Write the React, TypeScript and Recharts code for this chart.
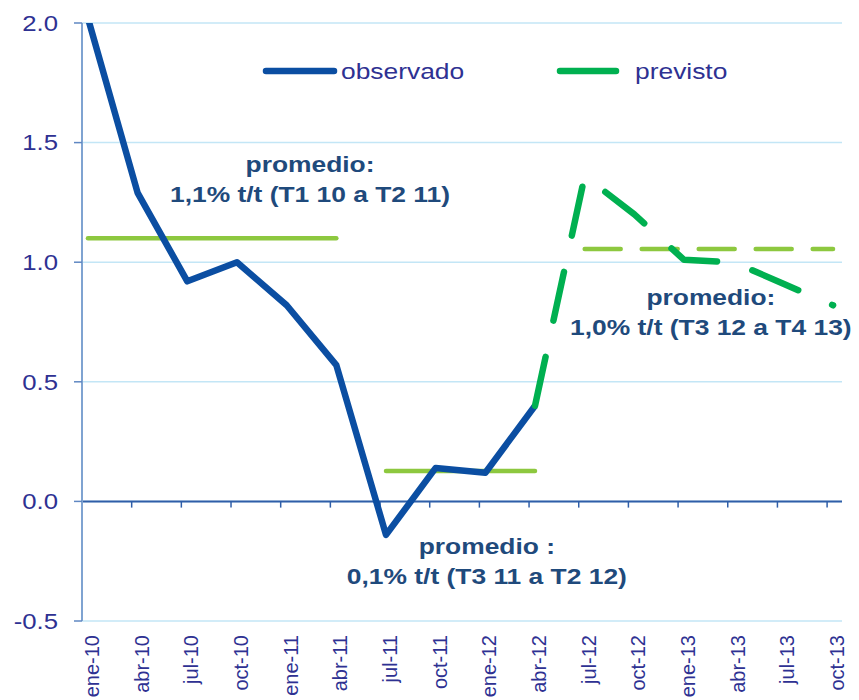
import React from 'react';
import { LineChart, Line, XAxis, YAxis, CartesianGrid, ReferenceLine, ReferenceDot, Legend } from 'recharts';

const FONT = '"Liberation Sans", Arial, sans-serif';

// trimestres (ene-10 ... oct-13)
const categorias = [
  'ene-10', 'abr-10', 'jul-10', 'oct-10', 'ene-11', 'abr-11', 'jul-11', 'oct-11',
  'ene-12', 'abr-12', 'jul-12', 'oct-12', 'ene-13', 'abr-13', 'jul-13', 'oct-13',
];

// variación t/t observada y prevista
const observado = [2.02, 1.29, 0.92, 1.0, 0.82, 0.57, -0.14, 0.14, 0.12, 0.4, null, null, null, null, null, null];
const previsto = [null, null, null, null, null, null, null, null, null, 0.4, 1.36, 1.2, 1.01, 1.0, 0.91, 0.82];

// promedios por tramo
const promedio1 = [1.1, 1.1, 1.1, 1.1, 1.1, 1.1, null, null, null, null, null, null, null, null, null, null];
const promedio2 = [null, null, null, null, null, null, 0.127, 0.127, 0.127, 0.127, null, null, null, null, null, null];
const promedio3 = [null, null, null, null, null, null, null, null, null, null, 1.055, 1.055, 1.055, 1.055, 1.055, 1.055];

const yTicks = [-0.5, 0, 0.5, 1, 1.5, 2];

const notas = [
  { x: 4.47, y: 1.346, lineas: ['promedio:', '1,1% t/t (T1 10 a T2 11)'] },
  { x: 8.03, y: -0.251, lineas: ['promedio :', '0,1% t/t (T3 11 a T2 12)'] },
  { x: 12.54, y: 0.792, lineas: ['promedio:', '1,0% t/t (T3 12 a T4 13)'] },
];

const data = categorias.map((cat, i) => ({
  idx: i,
  cat,
  observado: observado[i],
  previsto: previsto[i],
  promedio1: promedio1[i],
  promedio2: promedio2[i],
  promedio3: promedio3[i],
}));

const AZUL = '#0B4EA2';
const VERDE = '#00B050';
const VERDE_CLARO = '#8DC83F';
const TEXTO = '#2E3192';
const NOTA = '#1F4A7C';
const TICK_SHIFT = -0.12;

const XTick = (props: any) => {
  const { x, y, payload } = props;
  const tx = x + 4;
  const ty = y + 14;
  return (
    <text
      x={tx}
      y={ty}
      transform={`rotate(-90 ${tx} ${ty})`}
      textAnchor="end"
      dominantBaseline="central"
      fontSize={20}
      fontFamily={FONT}
      fill={TEXTO}
    >
      {categorias[payload.value]}
    </text>
  );
};

const YTick = (props: any) => {
  const { y, payload } = props;
  return (
    <g transform={`translate(58,${y}) scale(1.17,1)`}>
      <text x={0} y={0} textAnchor="end" dominantBaseline="central" fontSize={22} fontFamily={FONT} fill={TEXTO}>
        {payload.value.toFixed(1)}
      </text>
    </g>
  );
};

const Nota = (props: any) => {
  const { viewBox, lineas } = props;
  const cx = viewBox.x + (viewBox.width || 0) / 2;
  const cy = viewBox.y + (viewBox.height || 0) / 2;
  return (
    <g transform={`translate(${cx},${cy}) scale(1.2,1)`}>
      <text textAnchor="middle" fontSize={22} fontWeight="bold" fontFamily={FONT} fill={NOTA}>
        <tspan x={0} y={-7}>{lineas[0]}</tspan>
        <tspan x={0} y={23}>{lineas[1]}</tspan>
      </text>
    </g>
  );
};

const Leyenda = () => (
  <svg width={500} height={32}>
    <line x1={11} y1={16} x2={79} y2={16} stroke={AZUL} strokeWidth={6.5} strokeLinecap="round" />
    <g transform="translate(86,16) scale(1.2,1)">
      <text x={0} y={0} dominantBaseline="central" fontSize={22} fontFamily={FONT} fill={TEXTO}>observado</text>
    </g>
    <line x1={305} y1={16} x2={361} y2={16} stroke={VERDE} strokeWidth={6.5} strokeLinecap="round" />
    <g transform="translate(380,16) scale(1.2,1)">
      <text x={0} y={0} dominantBaseline="central" fontSize={22} fontFamily={FONT} fill={TEXTO}>previsto</text>
    </g>
  </svg>
);

export default function App() {
  return (
    <div style={{ position: 'absolute', left: 0, top: 0, background: '#fff' }}>
      <LineChart width={859} height={700} data={data} margin={{ top: 23, right: 17, bottom: 0, left: 0 }}>
        <CartesianGrid vertical={false} stroke="#C3E6F6" strokeWidth={1.5} />
        <XAxis
          type="number"
          dataKey="idx"
          domain={[-0.12, 15.18]}
          ticks={categorias.map((_, i) => i)}
          interval={0}
          height={79}
          axisLine={false}
          tickLine={false}
          tickSize={0}
          tickMargin={0}
          tick={<XTick />}
        />
        <YAxis
          domain={[-0.5, 2]}
          ticks={yTicks}
          allowDataOverflow
          width={82}
          axisLine={{ stroke: '#7FA3D1', strokeWidth: 2 }}
          tickLine={{ stroke: '#5F87C2', strokeWidth: 1.5 }}
          tickSize={8}
          tick={<YTick />}
          interval={0}
        />
        <ReferenceLine y={0} stroke="#2F5EA8" strokeWidth={2} />
        {categorias.slice(1).map((_, i) => (
          <ReferenceLine
            key={`t${i}`}
            segment={[
              { x: i + 1 + TICK_SHIFT, y: 0 },
              { x: i + 1 + TICK_SHIFT, y: -0.026 },
            ]}
            stroke="#2F5EA8"
            strokeWidth={1.5}
          />
        ))}
        <Line type="linear" dataKey="promedio1" stroke={VERDE_CLARO} strokeWidth={4.5} strokeLinecap="round" dot={false} activeDot={false} isAnimationActive={false} />
        <Line type="linear" dataKey="promedio2" stroke={VERDE_CLARO} strokeWidth={4.5} strokeLinecap="round" dot={false} activeDot={false} isAnimationActive={false} />
        <Line type="linear" dataKey="observado" stroke={AZUL} strokeWidth={6.5} strokeLinejoin="round" dot={false} activeDot={false} isAnimationActive={false} />
        <Line type="linear" dataKey="promedio3" stroke={VERDE_CLARO} strokeWidth={4.5} strokeDasharray="36 21" strokeLinecap="round" dot={false} activeDot={false} isAnimationActive={false} />
        <Line type="linear" dataKey="previsto" stroke={VERDE} strokeWidth={6.5} strokeDasharray="50 37" strokeLinecap="round" strokeLinejoin="round" dot={false} activeDot={false} isAnimationActive={false} />
        {notas.map((n, i) => (
          <ReferenceDot
            key={`n${i}`}
            x={n.x}
            y={n.y}
            r={0}
            fill="none"
            stroke="none"
            label={<Nota lineas={n.lineas} />}
          />
        ))}
        <Legend
          layout="vertical"
          align="center"
          verticalAlign="middle"
          wrapperStyle={{ position: 'absolute', left: 255, top: 55, width: 500, height: 32 }}
          content={() => <Leyenda />}
        />
      </LineChart>
    </div>
  );
}
